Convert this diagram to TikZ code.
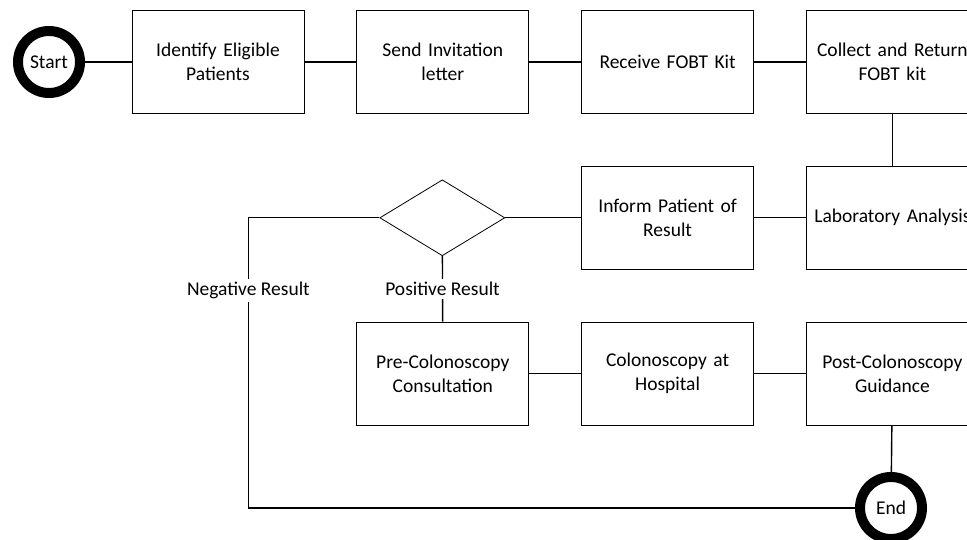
\documentclass[tikz,border=0pt]{standalone}
\usepackage{fontspec}
\setmainfont{Carlito}
\usepackage{tikz}
\usetikzlibrary{positioning,shapes.geometric}
\tikzstyle{stepbox}=[draw,rectangle,line width=0.8pt,minimum width=172pt,minimum height=103pt,inner sep=0pt,align=center,text width=168pt,font=\fontsize{19.5}{24}\selectfont]
\tikzstyle{terminal}=[draw,circle,line width=10pt,minimum size=62pt,inner sep=0pt,font=\fontsize{19.5}{24}\selectfont]
\tikzstyle{decision}=[draw,diamond,line width=0.8pt,aspect=1.64,minimum width=125pt,minimum height=76pt,inner sep=0pt]
\tikzstyle{link}=[line width=1.4pt]
\tikzstyle{tag}=[fill=white,inner sep=3pt,font=\fontsize{19.5}{24}\selectfont]

\begin{document}
\begin{tikzpicture}[x=1pt,y=1pt]
\clip (0,0) rectangle (967,-540);
\useasboundingbox (0,0) rectangle (967,-540);
\node [terminal] (start) at (49,-62) {Start};
\node [stepbox] (identify) at (218,-62) {Identify Eligible\\Patients};
\node [stepbox,right=52pt of identify] (invite) {Send Invitation\\letter};
\node [stepbox,right=52pt of invite] (receive) {Receive FOBT Kit};
\node [stepbox,right=52pt of receive] (collect) {Collect and Return\\FOBT kit};
\node [stepbox,below=52pt of collect] (lab) {Laboratory Analysis};
\node [stepbox,left=52pt of lab] (inform) {Inform Patient of\\Result};
\node [decision,left=76pt of inform] (decide) {};
\node [stepbox,below=52pt of inform] (colon) {Colonoscopy at\\Hospital};
\node [stepbox,left=52pt of colon] (precolon) {Pre-Colonoscopy\\Consultation};
\node [stepbox,right=52pt of colon] (postcolon) {Post-Colonoscopy\\Guidance};
\node [terminal] (end) at (891,-508) {End};
\coordinate [left=131pt of decide.west] (negturn);

\draw [link] (start) -- (identify);
\draw [link] (identify) -- (invite);
\draw [link] (invite) -- (receive);
\draw [link] (receive) -- (collect);
\draw [link] (collect) -- (lab);
\draw [link] (lab) -- (inform);
\draw [link] (inform) -- (decide);
\draw [link] (decide) -- node [tag] {Positive Result} (precolon);
\draw [link] (decide.west) -- (negturn) |- node [tag,pos=0.125] {Negative Result} (end);
\draw [link] (precolon) -- (colon);
\draw [link] (colon) -- (postcolon);
\draw [link] (postcolon) -- (end);
\end{tikzpicture}
\end{document}
